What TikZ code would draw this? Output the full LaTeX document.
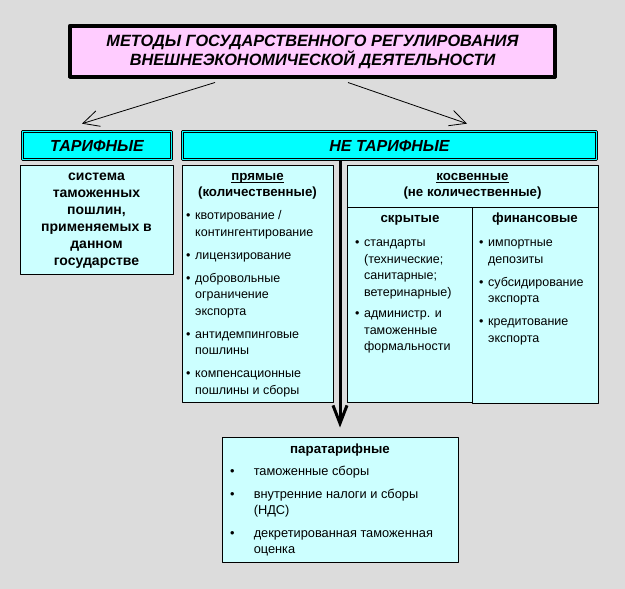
\documentclass[tikz,border=0pt]{standalone}
\usepackage{fontspec}
\setmainfont{Liberation Sans}
\usetikzlibrary{arrows.meta}
\definecolor{fon}{RGB}{220,220,220}
\definecolor{roz}{RGB}{255,204,255}
\definecolor{gol}{RGB}{0,255,255}
\definecolor{sv}{RGB}{204,255,255}
\newcommand\pkt[1][9pt]{\strut\makebox[#1][l]{\textbullet}}
\newcommand\otst[1][9pt]{\hspace*{#1}}
\newcommand\und[1]{\setbox0\hbox{#1}\rlap{\rule[-2.5pt]{\wd0}{0.9pt}}#1}
\begin{document}
\begin{tikzpicture}[x=1pt, y=-1pt, line join=round,
  box/.style={draw, fill=sv, line width=1pt, inner sep=0},
  hdr/.style={draw, fill=gol, double=gol, double distance=1.6pt, line width=0.7pt, inner sep=0,
    minimum height=28, font=\bfseries\itshape\fontsize{16}{18}\selectfont},
  zag/.style={inner sep=0, align=center, font=\bfseries\fontsize{13.3}{16}\selectfont},
  lst/.style={inner sep=0, align=left, anchor=north west, font=\fontsize{12.5}{16.5}\selectfont},
  str/.style={line width=0.8pt, -{Straight Barb[length=16pt,width=16pt]}}]
\fill[fon] (0,0) rectangle (625,589);
\useasboundingbox (0,0) rectangle (625,589);
% заголовок
\node[draw, line width=3.5pt, fill=roz, minimum width=485.5, minimum height=51.5, inner sep=0,
  align=center, font=\bfseries\itshape\fontsize{16.3}{18}\selectfont] (tl) at (312.5,51.5)
  {МЕТОДЫ ГОСУДАРСТВЕННОГО РЕГУЛИРОВАНИЯ\\ВНЕШНЕЭКОНОМИЧЕСКОЙ ДЕЯТЕЛЬНОСТИ};
\draw[line width=0.8pt] ([shift={(3.5,3.5)}]tl.north west) rectangle ([shift={(-3.5,-3.5)}]tl.south east);
\node[hdr, minimum width=149] (tar) at (97,145.5) {ТАРИФНЫЕ};
\node[hdr, minimum width=414] (ntar) at (389.5,145.5) {НЕ ТАРИФНЫЕ};
% ящики
\node[box, minimum width=153, minimum height=109] (sys) at (96.5,219.5) {};
\node[box, minimum width=151, minimum height=237] (pr) at (257.5,283.5) {};
\node[box, minimum width=251, minimum height=42] (kos) at (472.5,186) {};
\node[box, minimum width=125, minimum height=195] (skr) at (409.5,304.5) {};
\node[box, minimum width=126, minimum height=196] (fin) at (535,305) {};
\node[box, minimum width=236, minimum height=125] (par) at (340,499.5) {};
% тексты
\node[zag, anchor=north, font=\bfseries\fontsize{14}{17}\selectfont] (sysT) at (96.5,168)
  {\strut система\\таможенных\\пошлин,\\применяемых в\\данном\\государстве};
\node[zag, anchor=north] (prT) at (257.5,169) {\strut\und{прямые}\\(количественные)};
\node[zag, anchor=north] (kosT) at (472.5,169) {\strut\und{косвенные}\\(не количественные)};
\node[zag, anchor=base] (skrT) at (410,222.5) {скрытые};
\node[zag, anchor=base] (finT) at (535,222.5) {финансовые};
\node[zag, anchor=base] (parT) at (340,453) {паратарифные};
\node[lst] (prL) at (186,207.75) {\pkt квотирование /\\ \otst контингентирование\\[6.5pt]
  \pkt лицензирование\\[6.5pt]
  \pkt добровольные\\ \otst ограничение\\ \otst экспорта\\[6.5pt]
  \pkt антидемпинговые\\ \otst пошлины\\[6.5pt]
  \pkt компенсационные\\ \otst пошлины и сборы};
\node[lst] (skrL) at (355,234.75) {\pkt стандарты\\ \otst (технические;\\ \otst санитарные;\\
  \otst ветеринарные)\\[5pt]
  \pkt администр. и\\ \otst таможенные\\ \otst формальности};
\node[lst] (finL) at (479,234.75) {\pkt импортные\\ \otst депозиты\\[6.5pt]
  \pkt субсидирование\\ \otst экспорта\\[6.5pt]
  \pkt кредитование\\ \otst экспорта};
\node[lst, font=\fontsize{12.8}{16}\selectfont] (parL) at (230,464) {\pkt[20pt] таможенные сборы\\[7pt]
  \pkt[20pt] внутренние налоги и сборы\\ \otst[20pt] (НДС)\\[7pt]
  \pkt[20pt] декретированная таможенная\\ \otst[20pt] оценка};
% стрелки
\draw[str] ([xshift=-97.5pt,yshift=-3.5pt]tl.south) -- ([xshift=-15pt,yshift=7.5pt]tar.north);
\draw[str] ([xshift=35.5pt,yshift=-3.5pt]tl.south) -- ([xshift=77.5pt,yshift=7.5pt]ntar.north);
\draw[line width=3pt, -{Straight Barb[length=18pt,width=14pt]}] (par.north |- ntar.south) -- ([yshift=9pt]par.north);
\end{tikzpicture}
\end{document}
